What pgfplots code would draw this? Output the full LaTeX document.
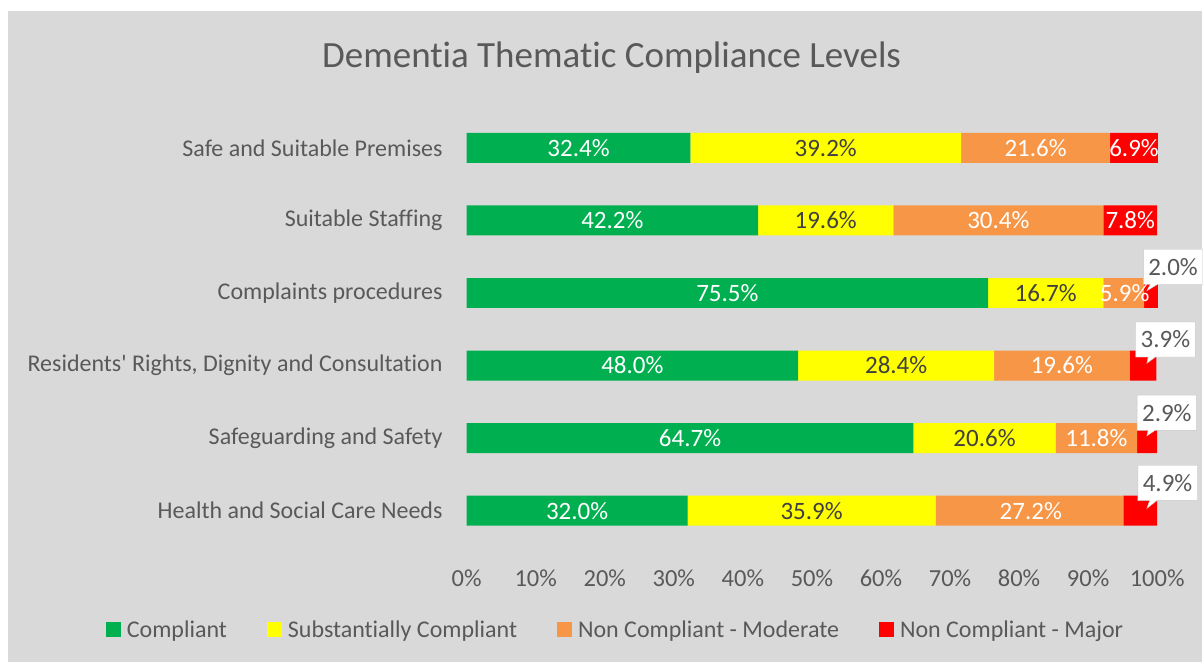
\documentclass[border=0pt]{standalone}
\usepackage{pgfplots}
\pgfplotsset{compat=1.18}
\usepackage{fontspec}
\setmainfont{Carlito}[Ligatures={TeXOff,NoCommon}]
\usetikzlibrary{shapes.callouts}
\definecolor{cgreen}{HTML}{00B050}
\definecolor{cyellow}{HTML}{FFFF00}
\definecolor{corange}{HTML}{F79646}
\definecolor{cred}{HTML}{FF0000}
\definecolor{bg}{HTML}{D9D9D9}
\definecolor{txt}{HTML}{595959}
\definecolor{dtxt}{HTML}{404040}
\tikzset{co/.style={rectangle callout, fill=white, draw=black!22, text=txt, inner xsep=5pt, inner ysep=9pt, font=\fontsize{25}{28}\selectfont}}
\begin{document}
\begin{tikzpicture}[x=1pt,y=1pt]
\fill[white] (0,0) rectangle (1203,662);
\fill[bg] (8,0) rectangle (1203,651);
\node[text=txt, font=\fontsize{37}{42}\selectfont] at (612,604) {Dementia Thematic Compliance Levels};
\begin{axis}[
  at={(467pt,114.7pt)}, anchor=south west,
  scale only axis, width=691pt, height=435.6pt,
  xbar stacked, bar width=30pt,
  xmin=0, xmax=100, ymin=-0.5, ymax=5.5, y dir=reverse,
  clip=false,
  ytick={0,...,5},
  yticklabels={Safe and Suitable Premises, Suitable Staffing, Complaints procedures, {Residents' Rights, Dignity and Consultation}, Safeguarding and Safety, Health and Social Care Needs},
  xtick={0,10,...,100},
  xticklabel={\pgfmathprintnumber{\tick}\%},
  /pgf/number format/assume math mode=true,
  axis line style={draw=none}, major tick length=0pt,
  ticklabel style={text=txt, font=\fontsize{24.5}{28}\selectfont},
  yticklabel style={anchor=east, inner sep=0pt, xshift=-24pt, font=\fontsize{24}{28}\selectfont},
  xticklabel style={anchor=center, yshift=-31pt},
  legend style={at={(0.2156,-0.19)}, anchor=center, draw=none, fill=none,
    legend columns=4, font=\fontsize{24}{28}\selectfont, text=txt,
    /tikz/every even column/.append style={column sep=38pt}},
  legend image code/.code={\fill[#1] (0pt,-7.5pt) rectangle (15pt,7.5pt); \path (19pt,0pt);},
]
\addplot[fill=cgreen, draw=none] coordinates {(32.4,0) (42.2,1) (75.5,2) (48.0,3) (64.7,4) (32.0,5)};
\addplot[fill=cyellow, draw=none] coordinates {(39.2,0) (19.6,1) (16.7,2) (28.4,3) (20.6,4) (35.9,5)};
\addplot[fill=corange, draw=none] coordinates {(21.6,0) (30.4,1) (5.9,2) (19.6,3) (11.8,4) (27.2,5)};
\addplot[fill=cred, draw=none] coordinates {(6.9,0) (7.8,1) (2.0,2) (3.9,3) (2.9,4) (4.9,5)};
\legend{Compliant, Substantially Compliant, Non Compliant - Moderate, Non Compliant - Major}
\end{axis}
\begin{axis}[
  at={(467pt,114.7pt)}, anchor=south west,
  scale only axis, width=691pt, height=435.6pt,
  xmin=0, xmax=100, ymin=-0.5, ymax=5.5, y dir=reverse,
  hide axis, clip=false,
  every node near coord/.append style={anchor=center, font=\fontsize{25}{28}\selectfont},
]
\addplot[only marks, mark=none, point meta=explicit symbolic, nodes near coords, nodes near coords style={text=white}] coordinates {
 (16.2,0) [32.4\%] (82.4,0) [21.6\%] (96.65,0) [6.9\%]
 (21.1,1) [42.2\%] (77.0,1) [30.4\%] (96.1,1) [7.8\%]
 (37.75,2) [75.5\%] (95.3,2) [5.9\%]
 (24.0,3) [48.0\%] (86.2,3) [19.6\%]
 (32.35,4) [64.7\%] (91.2,4) [11.8\%]
 (16.0,5) [32.0\%] (81.7,5) [27.2\%]
};
\addplot[only marks, mark=none, point meta=explicit symbolic, nodes near coords, nodes near coords style={text=dtxt}] coordinates {
 (52.0,0) [39.2\%] (52.0,1) [19.6\%] (83.85,2) [16.7\%] (62.2,3) [28.4\%] (75.0,4) [20.6\%] (49.95,5) [35.9\%]
};
\node[co, callout absolute pointer={(axis cs:98.5,1.97)}] at (axis cs:102.3,1.64) {2.0\%};
\node[co, callout absolute pointer={(axis cs:98.5,2.97)}] at (axis cs:101.2,2.64) {3.9\%};
\node[co, callout absolute pointer={(axis cs:98.5,3.97)}] at (axis cs:101.4,3.65) {2.9\%};
\node[co, callout absolute pointer={(axis cs:98.5,4.97)}] at (axis cs:101.5,4.62) {4.9\%};
\end{axis}
\useasboundingbox (0,0) rectangle (1203,662);
\end{tikzpicture}
\end{document}
